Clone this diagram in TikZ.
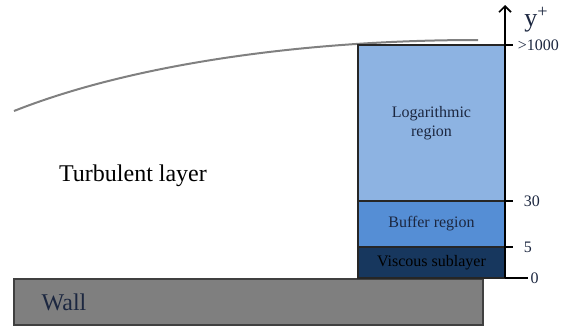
\documentclass[tikz,border=0pt]{standalone}
\usepackage{fontspec}
\setmainfont{Liberation Serif}
\usetikzlibrary{positioning,arrows.meta}

\definecolor{logblue}{HTML}{8DB3E2}
\definecolor{bufblue}{HTML}{558ED5}
\definecolor{visblue}{HTML}{17375E}
\definecolor{wallgray}{HTML}{7F7F7F}
\definecolor{ink}{HTML}{1C2740}

\begin{document}
\begin{tikzpicture}[x=0.5pt,y=-0.5pt,
  region/.style={draw=black!85, line width=0.6pt, inner sep=0pt, outer sep=0pt,
    minimum width=73.5pt, align=center, text=ink, font=\fontsize{8}{9.5}\selectfont},
  ticklabel/.style={anchor=west, inner sep=0pt, text=ink, font=\fontsize{8}{9}\selectfont}]
\useasboundingbox (0,0) rectangle (565,327);

% wall
\filldraw[fill=wallgray, draw=black!75, line width=1pt] (14,279) rectangle (483,325);
\node[text=ink, font=\fontsize{12}{14}\selectfont] (wall) at (64,302) {Wall};

% edge of the boundary layer
\draw[gray, line width=1pt] (14,111) .. controls (130,65) and (300,40) .. (478,40);
\node[text=black, font=\fontsize{12}{14}\selectfont] (turb) at (133,176) {Turbulent layer};

% regions near the wall
\node[region, fill=logblue, minimum height=78pt, anchor=north west] (log) at (358,45) {Logarithmic\\region};
\node[region, fill=bufblue, minimum height=23pt, below=0pt of log] (buffer) {Buffer region};
\node[region, fill=visblue, minimum height=15.5pt, below=0pt of buffer, text=black] (visc) {Viscous sublayer};

% y+ axis
\coordinate (origin) at (visc.south east);
\coordinate (top) at (505,5);
\draw[line width=0.8pt, -{Straight Barb[length=3pt,width=6pt]}] (origin) -- (top);
\node[inner sep=0pt, font=\fontsize{13}{15}\selectfont, text=ink, anchor=west] (yplus) at (524,20) {y\textsuperscript{+}};

\draw[line width=0.8pt] (log.north east) -- ++(8,0) node[ticklabel, xshift=2pt] (l1000) {>1000};
\draw[line width=0.8pt] (log.south east) -- ++(8,0) node[ticklabel, xshift=5pt] (l30) {30};
\draw[line width=0.8pt] (buffer.south east) -- ++(8,0) node[ticklabel, xshift=5pt] (l5) {5};
\draw[line width=0.6pt] (origin) -- ++(23,0) node[ticklabel, xshift=1pt] (l0) {0};
\end{tikzpicture}
\end{document}
